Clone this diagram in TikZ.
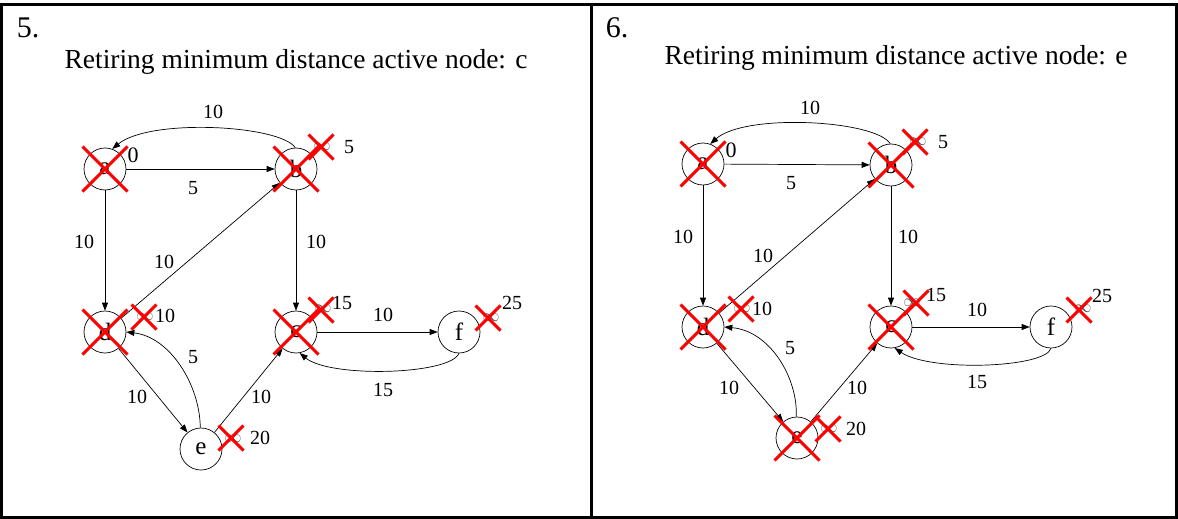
\documentclass[tikz,border=0pt]{standalone}
\usepackage{fontspec}
\setmainfont{Liberation Serif}
\usetikzlibrary{arrows.meta,shapes.misc}
\begin{document}
\begin{tikzpicture}[x=1pt,y=-1pt,
  vtx/.style={draw, circle, minimum size=42pt, inner sep=0pt, line width=0.7pt, font=\fontsize{25}{25}\selectfont},
  edge/.style={-{Triangle[length=8pt,width=6pt]}, line width=0.7pt},
  elab/.style={inner sep=0pt, font=\fontsize{20}{20}\selectfont},
  zlab/.style={inner sep=0pt, font=\fontsize{22}{22}\selectfont},
  inflab/.style={inner sep=0pt, text=black!70, font=\fontsize{18}{18}\selectfont},
  bigx/.style={cross out, draw=red, line width=3pt, minimum size=42pt, inner sep=0pt},
  smallx/.style={cross out, draw=red, line width=3pt, minimum size=22pt, inner sep=0pt},
  title/.style={inner sep=0pt, font=\fontsize{27.5}{27.5}\selectfont},
  num/.style={inner sep=0pt, font=\fontsize{30}{30}\selectfont},
  frame/.style={line width=2.5pt}
]
\useasboundingbox (0,0) rectangle (1178,519);
\draw[frame] (1.5,4.5) rectangle (1176.5,517.5);
\draw[frame] (591.5,4.5) -- (591.5,517.5);

% ---------- panel 5 ----------
\node[num] (n5) at (28,28) {5.};
\node[title] (t5) at (296,62) {Retiring minimum distance active node: c};

\node[vtx] (aL) at (105,169) {a};
\node[vtx] (bL) at (296,169) {b};
\node[vtx] (dL) at (105,332) {d};
\node[vtx] (cL) at (296,332) {c};
\node[vtx] (fL) at (459,332) {f};
\node[vtx] (eL) at (201,449) {e};

\draw[edge] (bL.92) .. controls (280,125) and (150,118) .. (aL.70);
\draw[edge] (aL) -- (bL);
\draw[edge] (aL) -- (dL);
\draw[edge] (dL) -- (bL);
\draw[edge] (bL) -- (cL);
\draw[edge] (cL) -- (fL);
\draw[edge] (fL.-90) .. controls (450,375) and (330,378) .. (cL.-80);
\draw[edge] (dL) -- (eL);
\draw[edge] (eL.92) .. controls (200,385) and (170,337) .. (dL.east);
\draw[edge] (eL) -- (cL);

\node[elab] (lba) at (213,112) {10};
\node[elab] (lab) at (193,188) {5};
\node[elab] (lad) at (84,242) {10};
\node[elab] (ldb) at (164,262) {10};
\node[elab] (lbc) at (316,242) {10};
\node[elab] (lcf) at (383,315) {10};
\node[elab] (lfc) at (383,390) {15};
\node[elab] (led) at (193,357) {5};
\node[elab] (lde) at (137,397) {10};
\node[elab] (lec) at (261,397) {10};

\node[zlab] (za) at (133,155) {0};
\node[inflab] (ib) at (322,147) {$\infty$};
\node[elab] (vb) at (349,147) {5};
\node[inflab] (id) at (145,317) {$\infty$};
\node[elab] (vd) at (165,316) {10};
\node[inflab] (ic) at (323,309) {$\infty$};
\node[elab] (vc) at (342,303) {15};
\node[inflab] (if) at (491,318) {$\infty$};
\node[elab] (vf) at (512,303) {25};
\node[inflab] (ie) at (233,439) {$\infty$};
\node[elab] (ve) at (260,438) {20};

\node[bigx] (xa) at (aL) {};
\node[bigx] (xb) at (bL) {};
\node[bigx] (xd) at (dL) {};
\node[bigx] (xc) at (cL) {};
\node[smallx] (xib) at (321,147) {};
\node[smallx] (xid) at (144,317) {};
\node[smallx] (xic) at (321,310) {};
\node[smallx] (xif) at (488,318) {};
\node[smallx] (xie) at (231,438) {};

% ---------- panel 6 ----------
\node[num] (n6) at (617,28) {6.};
\node[title] (t6) at (896,58) {Retiring minimum distance active node: e};

\node[vtx] (aR) at (703,164) {a};
\node[vtx] (bR) at (891,165) {b};
\node[vtx] (dR) at (703,327) {d};
\node[vtx] (cR) at (891,327) {c};
\node[vtx] (fR) at (1051,327) {f};
\node[vtx] (eR) at (797,438) {e};

\draw[edge] (bR.92) .. controls (875,120) and (745,113) .. (aR.70);
\draw[edge] (aR) -- (bR);
\draw[edge] (aR) -- (dR);
\draw[edge] (dR) -- (bR);
\draw[edge] (bR) -- (cR);
\draw[edge] (cR) -- (fR);
\draw[edge] (fR.-90) .. controls (1045,368) and (930,372) .. (cR.-80);
\draw[edge] (dR) -- (eR);
\draw[edge] (eR.92) .. controls (798,378) and (770,331) .. (dR.east);
\draw[edge] (eR) -- (cR);

\node[elab] (rba) at (810,108) {10};
\node[elab] (rab) at (791,183) {5};
\node[elab] (rad) at (683,237) {10};
\node[elab] (rdb) at (763,256) {10};
\node[elab] (rbc) at (908,237) {10};
\node[elab] (rcf) at (977,310) {10};
\node[elab] (rfc) at (977,382) {15};
\node[elab] (red) at (790,348) {5};
\node[elab] (rde) at (729,388) {10};
\node[elab] (rec) at (857,388) {10};

\node[zlab] (zaR) at (731,150) {0};
\node[inflab] (ibR) at (918,142) {$\infty$};
\node[elab] (vbR) at (943,142) {5};
\node[inflab] (idR) at (742,309) {$\infty$};
\node[elab] (vdR) at (762,309) {10};
\node[inflab] (icR) at (912,303) {$\infty$};
\node[elab] (vcR) at (936,295) {15};
\node[inflab] (ifR) at (1083,309) {$\infty$};
\node[elab] (vfR) at (1102,296) {25};
\node[inflab] (ieR) at (829,429) {$\infty$};
\node[elab] (veR) at (856,429) {20};

\node[bigx] (xaR) at (aR) {};
\node[bigx] (xbR) at (bR) {};
\node[bigx] (xdR) at (dR) {};
\node[bigx] (xcR) at (cR) {};
\node[bigx] (xeR) at (eR) {};
\node[smallx] (xibR) at (915,142) {};
\node[smallx] (xidR) at (741,309) {};
\node[smallx] (xicR) at (916,303) {};
\node[smallx] (xifR) at (1079,310) {};
\node[smallx] (xieR) at (828,429) {};
\end{tikzpicture}
\end{document}
